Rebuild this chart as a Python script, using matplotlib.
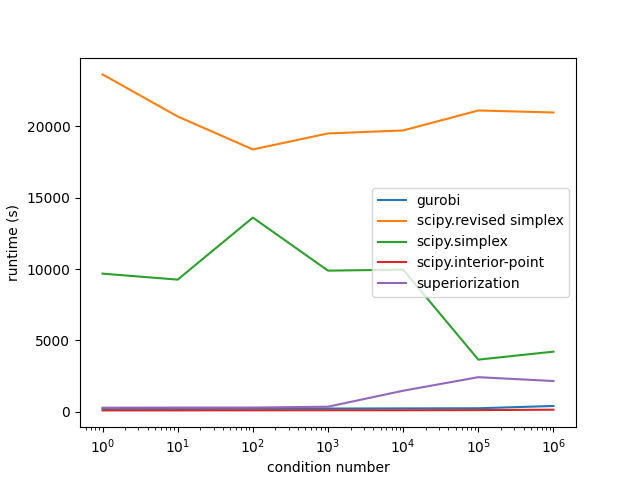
import matplotlib
matplotlib.use("Agg")
import matplotlib.pyplot as plt

# condition numbers and runtimes
cond = [1e0, 1e1, 1e2, 1e3, 1e4, 1e5, 1e6]
gurobi = [200, 200, 210, 220, 230, 240, 400]
revised_simplex = [23650, 20700, 18390, 19510, 19720, 21120, 20980]
simplex = [9680, 9260, 13610, 9890, 9960, 3650, 4210]
interior_point = [90, 90, 95, 100, 100, 110, 140]
superiorization = [280, 290, 290, 350, 1470, 2420, 2150]

fig, ax = plt.subplots(figsize=(6.4, 4.8), dpi=100)
ax.plot(cond, gurobi, label="gurobi")
ax.plot(cond, revised_simplex, label="scipy.revised simplex")
ax.plot(cond, simplex, label="scipy.simplex")
ax.plot(cond, interior_point, label="scipy.interior-point")
ax.plot(cond, superiorization, label="superiorization")
ax.set_xscale("log")
ax.set_xlabel("condition number")
ax.set_ylabel("runtime (s)")
ax.legend(loc="center right")
fig.savefig("out.png")
